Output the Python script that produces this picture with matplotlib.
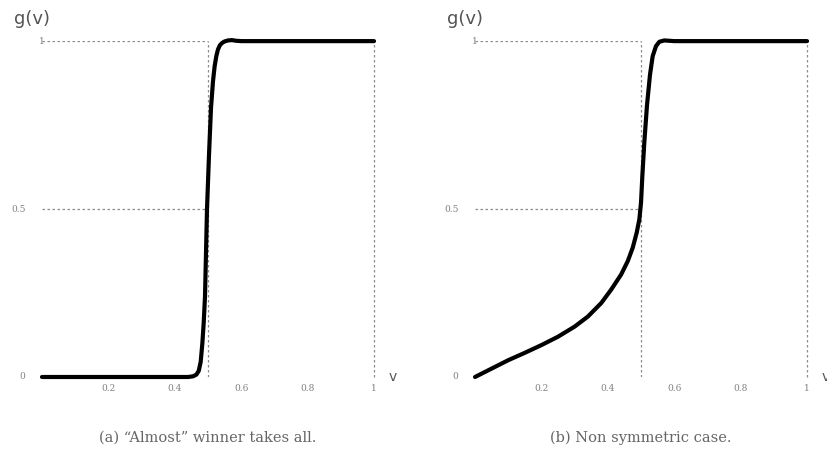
import matplotlib
matplotlib.use("Agg")
import matplotlib.pyplot as plt

# curve (a): "almost" winner takes all
v_a = [0, 0.44, 0.455, 0.465, 0.472, 0.478, 0.483, 0.487, 0.491, 0.497,
       0.503, 0.509, 0.515, 0.52, 0.525, 0.53, 0.536, 0.543, 0.55, 0.56,
       0.572, 0.585, 0.6, 1.0]
g_a = [0, 0.0, 0.002, 0.007, 0.018, 0.045, 0.1, 0.16, 0.24, 0.5,
       0.66, 0.8, 0.88, 0.925, 0.955, 0.975, 0.988, 0.995, 0.999, 1.002,
       1.003, 1.001, 1.0, 1.0]

# curve (b): non symmetric case
v_b = [0, 0.05, 0.1, 0.15, 0.2, 0.25, 0.3, 0.34, 0.38, 0.41, 0.44, 0.46,
       0.475, 0.487, 0.495, 0.5, 0.504, 0.51, 0.518, 0.527, 0.535, 0.545,
       0.555, 0.57, 0.6, 1.0]
g_b = [0, 0.025, 0.05, 0.072, 0.095, 0.12, 0.15, 0.18, 0.22, 0.26, 0.305,
       0.345, 0.385, 0.43, 0.47, 0.52, 0.6, 0.7, 0.81, 0.9, 0.955, 0.985,
       0.998, 1.002, 1.0, 1.0]

x_ticks = [0.2, 0.4, 0.6, 0.8, 1]
x_tick_labels = ["0.2", "0.4", "0.6", "0.8", "1"]
y_ticks = [0, 0.5, 1]
y_tick_labels = ["0", "0.5", "1"]
captions = ["(a) \u201cAlmost\u201d winner takes all.", "(b) Non symmetric case."]

grey_dot = dict(color="#8c8c8c", lw=0.9, ls=(0, (2.0, 2.0)))


def draw_panel(ax, v, g, caption):
    ax.set_xlim(0, 1)
    ax.set_ylim(0, 1)
    for s in ax.spines.values():
        s.set_visible(False)
    ax.set_xticks([])
    ax.set_yticks([])

    # guide lines
    ax.plot([0, 0.5], [1, 1], **grey_dot)
    ax.plot([0, 0.5], [0.5, 0.5], **grey_dot)
    ax.plot([0.5, 0.5], [0, 1], **grey_dot)
    ax.plot([1, 1], [0, 1], clip_on=False, **grey_dot)

    ax.plot(v, g, color="black", lw=3.0, solid_capstyle="round",
            solid_joinstyle="round", clip_on=False)

    for xt, lab in zip(x_ticks, x_tick_labels):
        ax.text(xt, -0.033, lab, ha="center", va="center", fontsize=6.5,
                family="DejaVu Serif", color="#808080")
    for yt, lab in zip(y_ticks, y_tick_labels):
        xpos = 0.0 if yt == 1 else -0.05
        ax.text(xpos, yt, lab, ha="right" if yt != 1 else "center", va="center",
                fontsize=6.5, family="DejaVu Serif", color="#808080")

    ax.text(1.055, 0.0, "v", ha="center", va="center", fontsize=10,
            color="#555555")
    ax.text(-0.03, 1.065, "g(v)", ha="center", va="center", fontsize=13,
            color="#555555")
    ax.text(0.5, -0.18, caption, ha="center", va="center", fontsize=10.5,
            family="DejaVu Serif", color="#666666", transform=ax.transAxes)


fig = plt.figure(figsize=(8.28, 4.62), dpi=100)
ax1 = fig.add_axes([0.0507, 0.184, 0.401, 0.727])
ax2 = fig.add_axes([0.5737, 0.184, 0.401, 0.727])

draw_panel(ax1, v_a, g_a, captions[0])
draw_panel(ax2, v_b, g_b, captions[1])

fig.savefig("out.png", dpi=100)
